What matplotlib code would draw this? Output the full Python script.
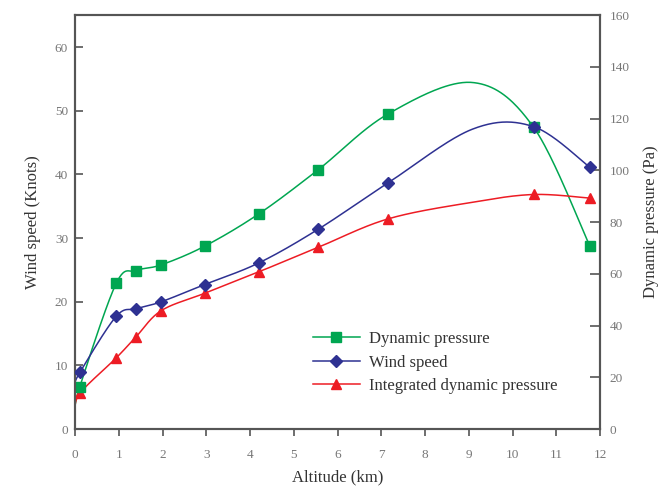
import matplotlib
matplotlib.use('Agg')
import matplotlib.pyplot as plt
import numpy as np
from matplotlib.lines import Line2D

plt.rcParams['font.family'] = ['Liberation Serif', 'DejaVu Serif']

# altitudes (km) of the marked readings
altitude = [0.11, 0.94, 1.40, 1.97, 2.96, 4.20, 5.56, 7.16, 10.48, 11.77]
wind_speed = [8.9, 17.7, 18.9, 20.0, 22.7, 26.1, 31.4, 38.7, 47.5, 41.1]          # knots
dynamic_pressure = [16.4, 56.3, 61.3, 63.5, 70.7, 83.2, 100.3, 121.9, 116.7, 70.6]  # Pa
integrated_pressure = [13.8, 27.5, 35.8, 45.8, 52.5, 60.8, 70.3, 81.3, 90.7, 89.3]  # Pa

# unmarked points the smoothed curves also pass through (ground and ~9 km)
hidden_altitude = [0.0, 9.08]
hidden_wind = [7.0, 47.1]
hidden_dynamic = [7.0, 134.0]
hidden_integrated = [6.5, 87.7]

GREEN = '#00a651'
BLUE = '#2e3192'
RED = '#ed1c24'
TEXT = '#333333'
TICK = '#777777'
SPINE = '#555555'


def merge(xs, ys, hx, hy):
    pts = sorted(zip(list(xs) + list(hx), list(ys) + list(hy)))
    return np.array([p[0] for p in pts]), np.array([p[1] for p in pts])


def smooth(x, y, xscale, yscale, n=40):
    # bezier smoothing like spreadsheet "smoothed line", done in screen-like units
    p = np.column_stack([np.asarray(x) / xscale, np.asarray(y) / yscale])
    out = [p[:1]]
    for i in range(len(p) - 1):
        p0 = p[max(i - 1, 0)]
        p1 = p[i]
        p2 = p[i + 1]
        p3 = p[min(i + 2, len(p) - 1)]
        c1 = p1 + (p2 - p0) / 6
        c2 = p2 - (p3 - p1) / 6
        t = np.linspace(0, 1, n)[1:, None]
        seg = (1 - t) ** 3 * p1 + 3 * (1 - t) ** 2 * t * c1 + 3 * (1 - t) * t ** 2 * c2 + t ** 3 * p2
        out.append(seg)
    q = np.vstack(out)
    return q[:, 0] * xscale, q[:, 1] * yscale


fig = plt.figure(figsize=(6.58, 4.91), dpi=100)
ax = fig.add_axes([0.114, 0.126, 0.798, 0.843])
ax2 = ax.twinx()

xs = 12 / 525
ys_left = 65 / 414
ys_right = 160 / 414

lw = 1.1
x, y = merge(altitude, dynamic_pressure, hidden_altitude, hidden_dynamic)
ax2.plot(*smooth(x, y, xs, ys_right), color=GREEN, lw=lw, zorder=2)
x, y = merge(altitude, integrated_pressure, hidden_altitude, hidden_integrated)
ax2.plot(*smooth(x, y, xs, ys_right), color=RED, lw=lw, zorder=2)
ax2.plot(altitude, integrated_pressure, linestyle='none', marker='^', ms=7.5, color=RED, zorder=3)
ax2.plot(altitude, dynamic_pressure, linestyle='none', marker='s', ms=7.5, color=GREEN, zorder=3)

x, y = merge(altitude, wind_speed, hidden_altitude, hidden_wind)
ax.plot(*smooth(x, y, xs, ys_left), color=BLUE, lw=lw, zorder=2)
ax.plot(altitude, wind_speed, linestyle='none', marker='D', ms=6.5, color=BLUE, zorder=3)

# wind axis drawn above so the diamonds sit on top
ax.set_zorder(ax2.get_zorder() + 1)
ax.patch.set_visible(False)

ax.set_xlim(0, 12)
ax.set_ylim(0, 65)
ax2.set_ylim(0, 160)
ax.set_xticks(range(0, 13))
ax.set_yticks(range(0, 61, 10))
ax2.set_yticks(range(0, 161, 20))

for a in (ax, ax2):
    for s in a.spines.values():
        s.set_color(SPINE)
        s.set_linewidth(1.5)
ax.tick_params(axis='x', direction='out', length=5, width=1.2, color=SPINE,
               labelcolor=TICK, labelsize=9.5, pad=9)
ax.tick_params(axis='y', direction='in', length=6, width=1.2, color=SPINE,
               labelcolor=TICK, labelsize=9.5, pad=5)
ax2.tick_params(axis='y', direction='in', length=7, width=1.2, color=SPINE,
                labelcolor=TICK, labelsize=9.5, pad=7)

ax.set_xlabel('Altitude (km)', fontsize=12, color=TEXT)
ax.set_ylabel('Wind speed (Knots)', fontsize=12, color=TEXT)
ax2.set_ylabel('Dynamic pressure (Pa)', fontsize=12, color=TEXT)
ax.xaxis.set_label_coords(0.5, -0.098)
ax.yaxis.set_label_coords(-0.064, 0.5)
ax2.yaxis.set_label_coords(1.082, 0.5)

handles = [
    Line2D([], [], color=GREEN, lw=lw, marker='s', ms=7.5),
    Line2D([], [], color=BLUE, lw=lw, marker='D', ms=6.5),
    Line2D([], [], color=RED, lw=lw, marker='^', ms=7.5),
]
labels = ['Dynamic pressure', 'Wind speed', 'Integrated dynamic pressure']
leg = ax.legend(handles, labels, loc='upper left', bbox_to_anchor=(0.453, 0.237),
                frameon=False, fontsize=12, handlelength=2.8, handletextpad=0.55,
                labelspacing=0.45, borderpad=0, borderaxespad=0)
for t in leg.get_texts():
    t.set_color(TEXT)

fig.savefig('out.png', dpi=100)
